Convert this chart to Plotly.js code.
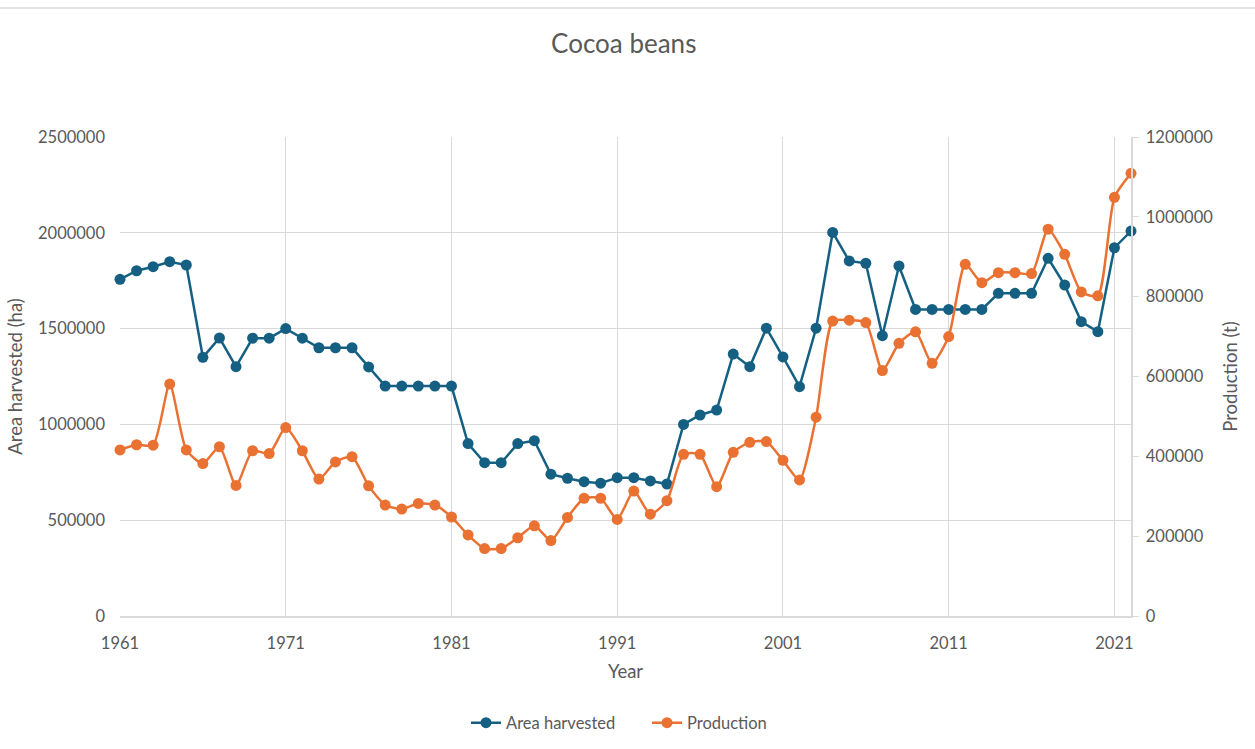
<!DOCTYPE html>
<html>
<head>
<meta charset="utf-8">
<script src="https://cdn.plot.ly/plotly-3.0.1.min.js"></script>
<style>
  html, body { margin: 0; padding: 0; background: #ffffff; }
  #chart { width: 1255px; height: 749px; }
</style>
</head>
<body>
<div id="chart"></div>
<script>
// Cocoa beans: harvested area (ha, left axis) and production (t, right axis), 1961-2022
const years = [];
for (let y = 1961; y <= 2022; y++) years.push(y);

const areaHarvested = [
  1757000, 1802000, 1823000, 1849000, 1832000, 1350000, 1451000, 1301000, 1450000, 1450000,
  1500000, 1450000, 1400000, 1400000, 1400000, 1300000, 1200000, 1200000, 1200000, 1200000,
  1200000, 900000, 800000, 800000, 900000, 915000, 740000, 719000, 701000, 693000,
  722000, 722000, 705000, 689000, 1000000, 1049000, 1075000, 1367000, 1301000, 1502000,
  1352000, 1197000, 1502000, 2002000, 1853000, 1841000, 1463000, 1827000, 1600000, 1600000,
  1600000, 1600000, 1600000, 1684000, 1684000, 1684000, 1867000, 1727000, 1536000, 1484000,
  1922000, 2009000
];

const production = [
  416000, 429000, 428000, 581000, 416000, 382000, 424000, 327000, 414000, 407000,
  472000, 414000, 343000, 386000, 399000, 326000, 278000, 268000, 282000, 278000,
  248000, 203000, 169000, 169000, 196000, 226000, 189000, 247000, 295000, 295000,
  242000, 313000, 255000, 289000, 405000, 405000, 324000, 410000, 435000, 437000,
  390000, 341000, 498000, 739000, 741000, 735000, 615000, 683000, 712000, 633000,
  700000, 881000, 835000, 860000, 860000, 858000, 969000, 906000, 812000, 802000,
  1049000, 1109000
];

const seriesNames = ['Area harvested', 'Production'];
const chartTitle = 'Cocoa beans';
const xTitle = 'Year';
const yLeftTitle = 'Area harvested (ha)';
const yRightTitle = 'Production (t)';

const blue = '#156082';
const orange = '#E97132';
const textGray = '#595959';
const gridGray = '#d9d9d9';
const fontFamily = 'Lato, "Noto Sans", sans-serif';

const traces = [
  {
    x: years, y: areaHarvested, name: seriesNames[0], type: 'scatter', mode: 'lines+markers',
    line: { color: blue, width: 2.5 }, marker: { color: blue, size: 11 },
    cliponaxis: false, yaxis: 'y'
  },
  {
    x: years, y: production, name: seriesNames[1], type: 'scatter', mode: 'lines+markers',
    line: { color: orange, width: 2.5, shape: 'spline', smoothing: 0.6 }, marker: { color: orange, size: 11 },
    cliponaxis: false, yaxis: 'y2'
  }
];

const W = 1255, H = 749;
const mL = 120, mR = 124, mT = 137, mB = 133;
const plotW = W - mL - mR, plotH = H - mT - mB;

const layout = {
  width: W, height: H,
  margin: { l: mL, r: mR, t: mT, b: mB, pad: 0 },
  paper_bgcolor: '#ffffff', plot_bgcolor: '#ffffff',
  font: { family: fontFamily, color: textGray, size: 16 },
  title: { text: chartTitle, font: { size: 26, color: textGray, family: fontFamily },
           x: 0.497, xanchor: 'center', y: 1 - 44 / H, yanchor: 'middle' },
  showlegend: true,
  legend: { orientation: 'h', xref: 'container', yref: 'container',
            x: 466 / W, xanchor: 'left', y: 1 - 723 / H, yanchor: 'middle',
            font: { size: 16.5, color: textGray }, traceorder: 'normal',
            entrywidth: 136, entrywidthmode: 'pixels' },
  xaxis: {
    range: [1961, 2022], tick0: 1961, dtick: 10, tickmode: 'linear',
    showgrid: true, gridcolor: gridGray, gridwidth: 1,
    showline: true, linecolor: gridGray, linewidth: 1.5,
    ticks: '', zeroline: false, tickfont: { size: 16.5, color: textGray },
    ticklabelstandoff: 12,
    title: { text: xTitle, font: { size: 18.5, color: textGray }, standoff: 13 }
  },
  yaxis: {
    range: [0, 2500000], dtick: 500000, tick0: 0, tickmode: 'linear',
    showgrid: true, gridcolor: gridGray, gridwidth: 1,
    showline: false, zeroline: false, ticks: '',
    tickformat: 'd', tickfont: { size: 16.5, color: textGray }, ticklabelstandoff: 14,
    title: { text: yLeftTitle, font: { size: 18.5, color: textGray }, standoff: 10 }
  },
  yaxis2: {
    range: [0, 1200000], dtick: 200000, tick0: 0, tickmode: 'linear',
    overlaying: 'y', side: 'right', showgrid: false, zeroline: false,
    showline: true, linecolor: gridGray, linewidth: 1.5,
    ticks: 'outside', ticklen: 6, tickcolor: gridGray,
    tickformat: 'd', tickfont: { size: 16.5, color: textGray }, ticklabelstandoff: 4,
    title: { text: yRightTitle, font: { size: 18.5, color: textGray }, standoff: 12 }
  },
  shapes: [
    { type: 'line', xref: 'paper', yref: 'paper',
      x0: -mL / plotW, x1: (W - mL) / plotW, y0: (H - 8 - mB) / plotH, y1: (H - 8 - mB) / plotH,
      line: { color: '#d9d9d9', width: 1.5 } }
  ]
};

Plotly.newPlot('chart', traces, layout, { displayModeBar: false, staticPlot: true });
</script>
</body>
</html>
